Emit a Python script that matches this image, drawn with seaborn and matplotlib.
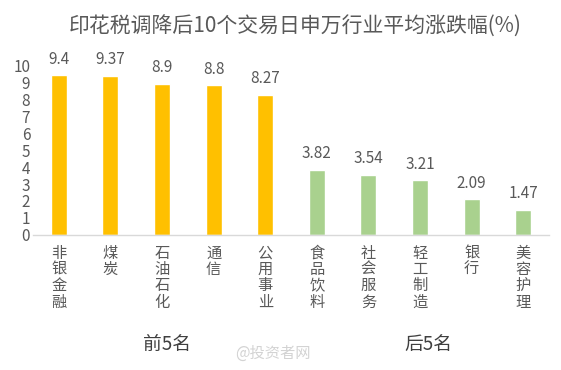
import matplotlib
matplotlib.use('Agg')
import matplotlib.pyplot as plt
import seaborn as sns
import pandas as pd

# data
industries = ['非银金融', '煤炭', '石油石化', '通信', '公用事业',
              '食品饮料', '社会服务', '轻工制造', '银行', '美容护理']
changes = [9.4, 9.37, 8.9, 8.8, 8.27, 3.82, 3.54, 3.21, 2.09, 1.47]
groups = ['前5名'] * 5 + ['后5名'] * 5
value_labels = ['9.4', '9.37', '8.9', '8.8', '8.27', '3.82', '3.54', '3.21', '2.09', '1.47']

df = pd.DataFrame({'industry': industries, 'change': changes, 'group': groups})

sns.set_theme(style="white")
plt.rcParams['font.family'] = ['Noto Sans CJK SC', 'DejaVu Sans']

text_color = '#595959'
axis_color = '#D9D9D9'
palette = {'前5名': '#FFC000', '后5名': '#A9D18E'}

fig = plt.figure(figsize=(5.61, 3.70), dpi=100)
ax = fig.add_axes([0.0588, 0.365, 0.92, 0.459])

sns.barplot(data=df, x='industry', y='change', hue='group', palette=palette,
            dodge=False, width=0.31, legend=False, ax=ax, saturation=1)

ax.set_xlim(-0.5, 9.5)
ax.set_ylim(0, 10)
ax.set_yticks(range(0, 11))
ax.tick_params(axis='y', length=0, labelsize=11, labelcolor=text_color, pad=2)
ax.set_xlabel('')
ax.set_ylabel('')

# vertical category labels, one character per line
ax.set_xticks(range(len(industries)))
ax.set_xticklabels(['\n'.join(name) for name in industries], fontsize=11,
                   color=text_color, linespacing=0.95, va='top')
ax.tick_params(axis='x', which='major', length=0, pad=7)
ax.set_xticks([-0.5, 4.5, 9.5], minor=True)
ax.tick_params(axis='x', which='minor', length=5, width=1, color=axis_color, direction='out')

for side in ['top', 'right', 'left']:
    ax.spines[side].set_visible(False)
ax.spines['bottom'].set_color(axis_color)
ax.spines['bottom'].set_linewidth(1)

for i, (v, lab) in enumerate(zip(changes, value_labels)):
    ax.text(i, v + 0.45, lab, ha='center', va='bottom', fontsize=11,
            color=text_color, clip_on=False)

fig.text(0.526, 0.928, '印花税调降后10个交易日申万行业平均涨跌幅(%)', ha='center', va='center',
         fontsize=15, color=text_color)

fig.text(167 / 561, 0.068, '前5名', ha='center', va='center', fontsize=13.5, color='#404040')
fig.text(428 / 561, 0.068, '后5名', ha='center', va='center', fontsize=13.5, color='#404040')

# faint watermark
fig.text(0.42, 0.045, '@投资者网', ha='left', va='center', fontsize=11,
         color='#C8C8C8', alpha=0.8)

fig.savefig('out.png', dpi=100)
